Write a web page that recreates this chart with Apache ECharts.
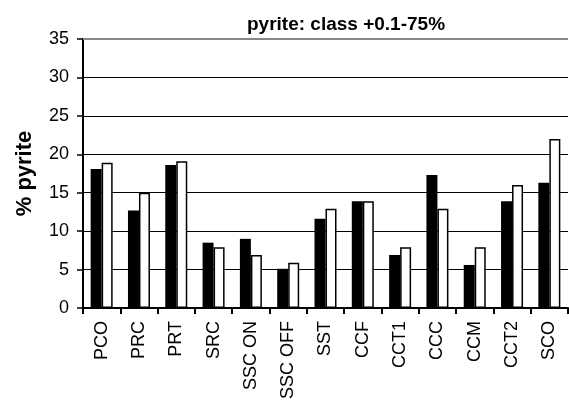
<!DOCTYPE html>
<html>
<head>
<meta charset="utf-8">
<script src="https://cdn.jsdelivr.net/npm/echarts@6/dist/echarts.min.js"></script>
<style>
  html, body { margin: 0; padding: 0; background: #fff; }
  #chart { width: 569px; height: 400px; }
</style>
</head>
<body>
<div id="chart"></div>
<script>
// categories along the x axis
const sites = ['PCO', 'PRC', 'PRT', 'SRC', 'SSC ON', 'SSC OFF', 'SST', 'CCF', 'CCT1', 'CCC', 'CCM', 'CCT2', 'SCO']
// black bars
const blackValues = [18.1, 12.7, 18.6, 8.5, 9.0, 5.1, 11.6, 13.9, 6.9, 17.3, 5.6, 13.9, 16.3]
// white bars
const whiteValues = [18.9, 15.0, 19.1, 7.9, 6.9, 5.9, 12.9, 13.9, 7.9, 12.9, 7.9, 16.0, 22.0]
const yTicks = [0, 5, 10, 15, 20, 25, 30, 35]

const chart = echarts.init(document.getElementById('chart'))

const font = '"Liberation Sans", Arial, sans-serif'

const option = {
  backgroundColor: '#fff',
  animation: false,
  title: {
    text: 'pyrite: class +0.1-75%',
    left: 242,
    top: 10,
    textStyle: {
      fontFamily: font,
      fontWeight: 'bold',
      fontSize: 19,
      color: '#000'
    }
  },
  grid: {
    left: 83,
    right: 1,
    top: 39,
    bottom: 92,
    outerBoundsMode: 'none'
  },
  xAxis: {
    type: 'category',
    data: sites,
    axisLine: {
      lineStyle: { color: '#000', width: 2 }
    },
    axisTick: {
      show: true,
      length: 6,
      lineStyle: { color: '#000', width: 2 }
    },
    axisLabel: {
      rotate: 90,
      margin: 13,
      fontFamily: font,
      fontSize: 18,
      color: '#000'
    }
  },
  yAxis: {
    type: 'value',
    min: yTicks[0],
    max: yTicks[yTicks.length - 1],
    interval: 5,
    name: '% pyrite',
    nameLocation: 'middle',
    nameGap: 47,
    nameTextStyle: {
      fontFamily: font,
      fontWeight: 'bold',
      fontSize: 22,
      color: '#000'
    },
    axisLine: {
      show: true,
      lineStyle: { color: '#000', width: 2 }
    },
    axisTick: {
      show: true,
      length: 6,
      lineStyle: { color: '#000', width: 1.5 }
    },
    axisLabel: {
      margin: 14,
      fontFamily: font,
      fontSize: 18,
      color: '#000'
    },
    splitLine: {
      lineStyle: {
        color: ['#000', '#000', '#000', '#000', '#000', '#000', '#000', '#888'],
        width: 1
      }
    }
  },
  series: [
    {
      type: 'bar',
      data: blackValues,
      barWidth: 11,
      barGap: '0%',
      itemStyle: {
        color: '#000'
      }
    },
    {
      type: 'bar',
      data: whiteValues,
      barWidth: 11,
      itemStyle: {
        color: '#fff',
        borderColor: '#000',
        borderWidth: 1.5
      },
      markLine: {
        silent: true,
        symbol: 'none',
        label: { show: false },
        lineStyle: { color: '#888', width: 2, type: 'solid' },
        data: [{ yAxis: 35 }]
      }
    }
  ]
}

chart.setOption(option)
</script>
</body>
</html>
